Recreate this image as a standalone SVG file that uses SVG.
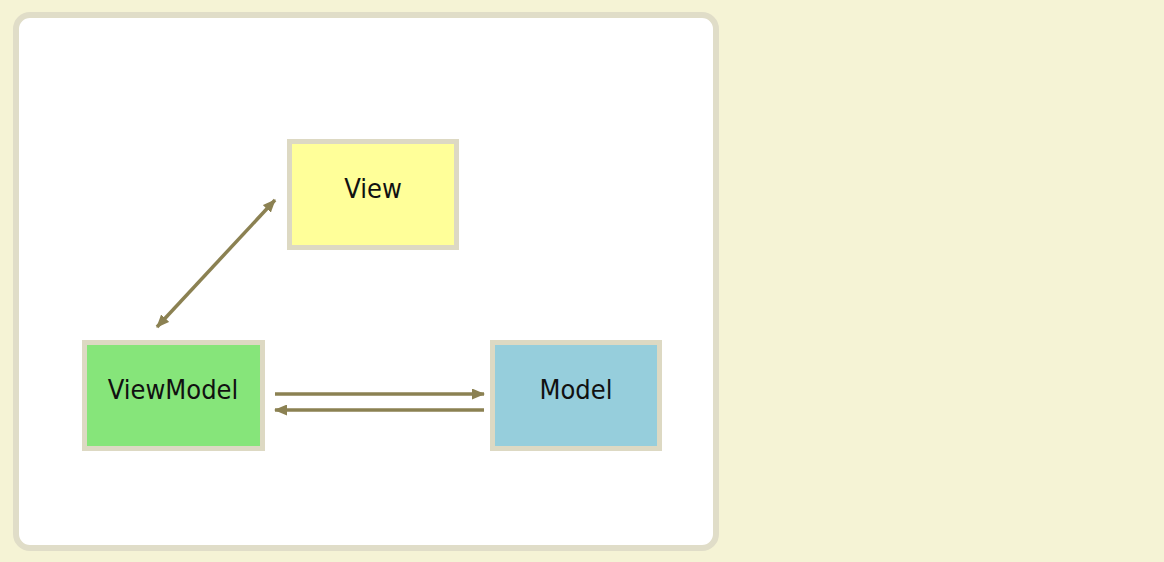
<svg xmlns="http://www.w3.org/2000/svg" width="1164" height="562" viewBox="0 0 1164 562">
<style>
.node rect{stroke:#ddd9c3;stroke-width:5}
.node text{font-family:"DejaVu Sans Condensed","DejaVu Sans",sans-serif;font-size:27px;fill:#111;text-anchor:middle}
.conn line{stroke:#8b8152;stroke-width:3.5;fill:none}
</style>
<defs>
<marker id="ah" viewBox="0 0 13 11" refX="12" refY="5.5" markerWidth="13" markerHeight="11" markerUnits="userSpaceOnUse" orient="auto-start-reverse">
<path d="M0,0 L13,5.5 L0,11 Z" fill="#8b8152"/>
</marker>
</defs>
<rect x="0" y="0" width="1164" height="562" fill="#f5f3d5"/>
<rect x="16" y="15" width="700" height="533" rx="14" fill="#ffffff" stroke="#e0ddc8" stroke-width="6"/>
<g class="conn">
<line x1="157" y1="327" x2="275" y2="200" marker-start="url(#ah)" marker-end="url(#ah)"/>
<line x1="275" y1="394" x2="484" y2="394" marker-end="url(#ah)"/>
<line x1="484" y1="410" x2="275" y2="410" marker-end="url(#ah)"/>
</g>
<g id="view" class="node">
<rect x="289.5" y="141.5" width="167" height="106" fill="#ffff99"/>
<text x="373" y="198">View</text>
</g>
<g id="viewmodel" class="node">
<rect x="84.5" y="342.5" width="178" height="106" fill="#86e57a"/>
<text x="173" y="399">ViewModel</text>
</g>
<g id="model" class="node">
<rect x="492.5" y="342.5" width="167" height="106" fill="#96cedc"/>
<text x="576" y="399">Model</text>
</g>
</svg>
